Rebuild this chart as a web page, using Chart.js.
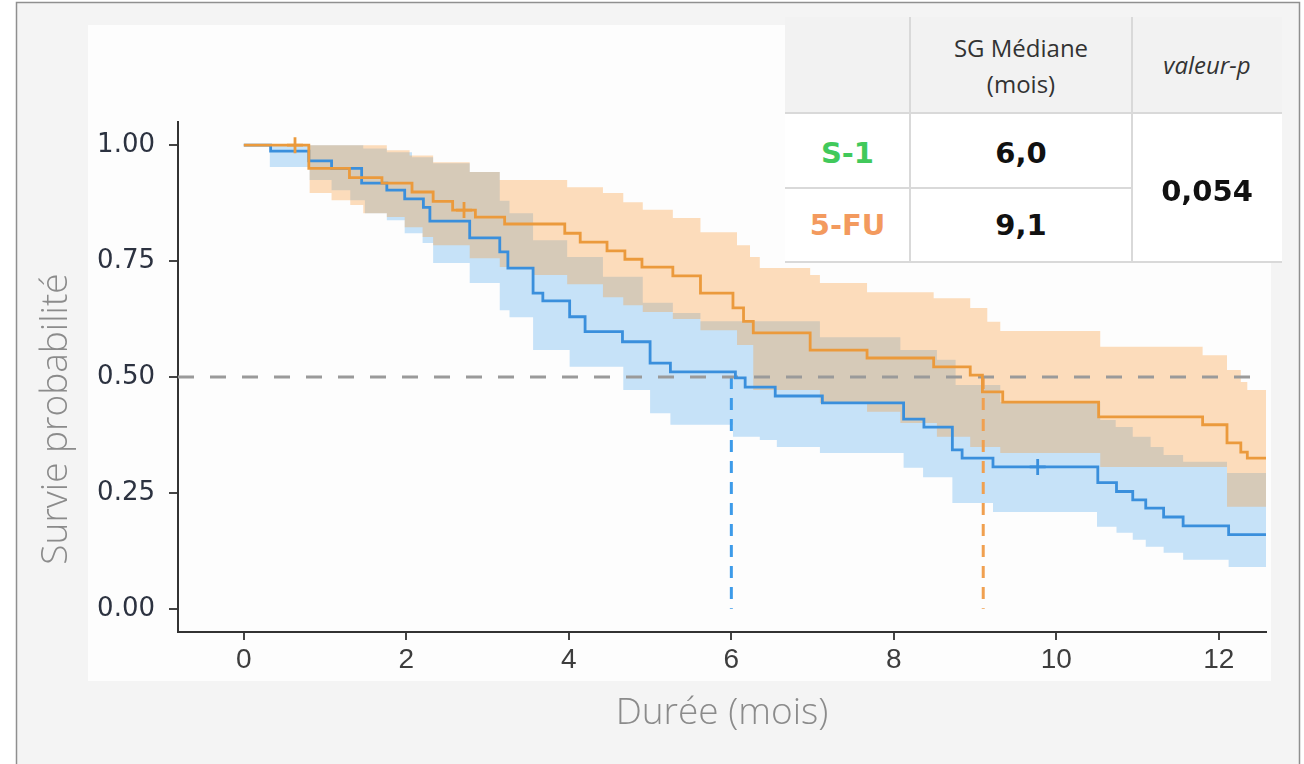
<!DOCTYPE html>
<html>
<head>
<meta charset="utf-8">
<script src="https://cdn.jsdelivr.net/npm/chart.js@4.4.1/dist/chart.umd.min.js"></script>
<style>
html, body { margin: 0; padding: 0; background: #ffffff; }
#wrap { position: relative; width: 1304px; height: 764px; overflow: hidden; }
#chart { position: absolute; left: 0; top: 0; }
.cell { position: absolute; display: flex; align-items: center; justify-content: center; text-align: center; }
.bg { position: absolute; }
.hd { font-family: "Open Sans", "Noto Sans", sans-serif; font-size: 24px; color: #333; line-height: 36px; }
.val { font-family: "DejaVu Sans", sans-serif; font-weight: bold; font-size: 29px; color: #111; }
</style>
</head>
<body>
<div id="wrap">
  <canvas id="chart" width="1304" height="764"></canvas>
  <div id="table"></div>
</div>
<script>
// ---------- data ----------
const xTickValues = [0, 2, 4, 6, 8, 10, 12];
const yTickValues = [0, 0.25, 0.5, 0.75, 1.0];

// S-1 (blue) Kaplan-Meier step curve: time of each step (months) and survival after the step
const s1Times = [0, 0.33, 0.80, 1.08, 1.45, 1.76, 1.98, 2.21, 2.29, 2.78, 3.15, 3.25, 3.56, 3.68, 4.01, 4.20, 4.66, 5.00, 5.25, 6.05, 6.17, 6.54, 7.12, 8.12, 8.37, 8.72, 8.84, 9.22, 10.51, 10.74, 10.94, 11.10, 11.32, 11.56, 12.12, 12.58];
const s1Surv  = [1.0, 0.987, 0.966, 0.95, 0.918, 0.903, 0.884, 0.866, 0.836, 0.80, 0.77, 0.735, 0.681, 0.664, 0.63, 0.598, 0.576, 0.53, 0.511, 0.498, 0.478, 0.459, 0.444, 0.409, 0.392, 0.343, 0.325, 0.306, 0.272, 0.253, 0.235, 0.217, 0.198, 0.179, 0.16, 0.16];
const s1UpperT = [0, 1.47, 1.76, 2.07, 2.33, 2.78, 3.15, 3.27, 3.56, 3.98, 4.42, 4.91, 5.28, 5.62, 7.09, 8.08, 8.53, 8.76, 9.31, 10.54, 10.73, 10.94, 11.16, 11.32, 11.56, 12.10, 12.58];
const s1UpperV = [1.0, 0.993, 0.985, 0.974, 0.961, 0.942, 0.88, 0.853, 0.795, 0.759, 0.716, 0.66, 0.638, 0.62, 0.586, 0.558, 0.537, 0.483, 0.446, 0.407, 0.392, 0.371, 0.349, 0.332, 0.317, 0.293, 0.293];
const s1LowerT = [0, 0.32, 0.81, 1.08, 1.31, 1.49, 1.76, 1.98, 2.20, 2.33, 2.78, 3.15, 3.27, 3.56, 4.01, 4.67, 5.00, 5.25, 6.02, 6.35, 6.56, 7.09, 8.12, 8.36, 8.72, 9.22, 10.50, 10.74, 10.94, 11.10, 11.32, 11.56, 12.12, 12.58];
const s1LowerV = [1.0, 0.953, 0.925, 0.903, 0.881, 0.853, 0.838, 0.81, 0.789, 0.746, 0.703, 0.644, 0.629, 0.558, 0.522, 0.472, 0.422, 0.397, 0.371, 0.364, 0.349, 0.336, 0.304, 0.284, 0.228, 0.209, 0.177, 0.164, 0.149, 0.134, 0.121, 0.106, 0.09, 0.09];
const s1CensorT = [9.77];
const s1CensorV = [0.306];

// 5-FU (orange)
const fuTimes = [0, 0.80, 1.30, 1.70, 2.07, 2.33, 2.57, 2.85, 3.21, 3.95, 4.14, 4.47, 4.69, 4.90, 5.28, 5.62, 6.02, 6.15, 6.27, 6.97, 7.67, 8.49, 8.94, 9.09, 9.34, 10.52, 11.80, 12.10, 12.27, 12.35, 12.58];
const fuSurv  = [1.0, 0.95, 0.93, 0.918, 0.899, 0.879, 0.86, 0.845, 0.83, 0.81, 0.791, 0.772, 0.754, 0.737, 0.718, 0.681, 0.649, 0.62, 0.595, 0.558, 0.541, 0.522, 0.504, 0.468, 0.446, 0.414, 0.397, 0.358, 0.338, 0.325, 0.325];
const fuUpperT = [0, 1.76, 2.04, 2.33, 2.78, 3.15, 3.98, 4.42, 4.67, 4.91, 5.28, 5.62, 6.07, 6.23, 6.35, 6.97, 7.09, 7.67, 8.49, 8.94, 9.15, 9.31, 10.54, 11.80, 12.10, 12.27, 12.35, 12.58];
const fuUpperV = [1.0, 0.989, 0.978, 0.963, 0.942, 0.925, 0.909, 0.897, 0.877, 0.861, 0.843, 0.812, 0.784, 0.759, 0.735, 0.72, 0.703, 0.683, 0.67, 0.649, 0.619, 0.599, 0.565, 0.547, 0.515, 0.489, 0.472, 0.472];
const fuLowerT = [0, 0.81, 1.08, 1.31, 1.47, 1.76, 1.98, 2.20, 2.33, 2.78, 3.15, 3.56, 3.98, 4.42, 4.67, 4.91, 5.28, 5.62, 6.07, 6.27, 7.09, 7.67, 8.08, 8.53, 8.94, 9.31, 10.54, 12.10, 12.58];
const fuLowerV = [1.0, 0.897, 0.881, 0.871, 0.853, 0.845, 0.823, 0.802, 0.784, 0.756, 0.737, 0.72, 0.70, 0.672, 0.655, 0.64, 0.625, 0.601, 0.569, 0.472, 0.444, 0.425, 0.401, 0.371, 0.349, 0.336, 0.306, 0.22, 0.22];
const fuCensorT = [0.63, 2.71];
const fuCensorV = [1.0, 0.86];

// medians and test
const groupNames = ['S-1', '5-FU'];
const medianS1 = 6.0;
const medianFU = 9.1;
const medianLevel = 0.5;
const pValue = 0.054;

const xTitle = 'Durée (mois)';
const yTitle = 'Survie probabilité';
// ---------- end data ----------

const X_MIN = -0.81, X_MAX = 12.58, Y_MIN = -0.05, Y_MAX = 1.05;
const BLUE = '#3a8fdc', ORANGE = '#eb9a3c';

function pts(t, v) { return t.map((x, i) => ({ x: x, y: v[i] })); }
function fr(n, d) { return n.toFixed(d).replace('.', ','); }

const bandStyle = { borderColor: 'transparent', borderWidth: 0, pointRadius: 0, stepped: true, order: 10 };

const datasets = [
  { label: '5-FU', data: pts(fuTimes, fuSurv), borderColor: ORANGE, borderWidth: 2.8, stepped: true, pointRadius: 0, fill: false, order: 1 },
  { label: 'S-1', data: pts(s1Times, s1Surv), borderColor: BLUE, borderWidth: 2.8, stepped: true, pointRadius: 0, fill: false, order: 2 },
  { label: 'censor 5-FU', data: pts(fuCensorT, fuCensorV), showLine: false, pointStyle: 'cross', pointRadius: 8, pointBorderWidth: 2.8, pointBorderColor: ORANGE, borderColor: ORANGE, order: 0 },
  { label: 'censor S-1', data: pts(s1CensorT, s1CensorV), showLine: false, pointStyle: 'cross', pointRadius: 8, pointBorderWidth: 2.8, pointBorderColor: BLUE, borderColor: BLUE, order: 0 },
  { label: 'median', data: [{ x: X_MIN, y: medianLevel }, { x: X_MAX, y: medianLevel }], borderColor: '#9a9a9a', borderWidth: 3, borderDash: [16, 16], pointRadius: 0, fill: false, order: 3 },
  { label: 'median S-1', data: [{ x: medianS1, y: medianLevel }, { x: medianS1, y: 0 }], borderColor: '#3d9be9', borderWidth: 3, borderDash: [12, 9], pointRadius: 0, fill: false, order: 3 },
  { label: 'median 5-FU', data: [{ x: medianFU, y: medianLevel }, { x: medianFU, y: 0 }], borderColor: '#f0a050', borderWidth: 3, borderDash: [12, 9], pointRadius: 0, fill: false, order: 3 },
  Object.assign({ label: '5-FU upper', data: pts(fuUpperT, fuUpperV), fill: 8, backgroundColor: 'rgba(252,145,38,0.30)' }, bandStyle),
  Object.assign({ label: '5-FU lower', data: pts(fuLowerT, fuLowerV), fill: false }, bandStyle),
  Object.assign({ label: 'S-1 upper', data: pts(s1UpperT, s1UpperV), fill: 10, backgroundColor: 'rgba(72,165,238,0.30)' }, bandStyle),
  Object.assign({ label: 'S-1 lower', data: pts(s1LowerT, s1LowerV), fill: false }, bandStyle)
];

const bgPlugin = {
  id: 'bgPlugin',
  beforeDraw(chart) {
    const ctx = chart.ctx;
    ctx.save();
    ctx.fillStyle = '#ffffff';
    ctx.fillRect(0, 0, 1304, 764);
    ctx.fillStyle = '#f4f4f4';
    ctx.fillRect(17, 3, 1282, 761);
    ctx.fillStyle = '#fdfdfd';
    ctx.fillRect(88, 25, 1183, 656);
    ctx.strokeStyle = '#8f8f8f';
    ctx.lineWidth = 1.5;
    ctx.strokeRect(16.5, 2.5, 1283, 800);
    ctx.restore();
  },
  afterDraw(chart) {
    const ctx = chart.ctx;
    ctx.save();
    ctx.translate(56, 419);
    ctx.rotate(-Math.PI / 2);
    ctx.font = '300 37px "Open Sans", "Noto Sans", sans-serif';
    ctx.fillStyle = '#8b8b8b';
    ctx.textAlign = 'center';
    ctx.textBaseline = 'middle';
    ctx.fillText(yTitle, 0, 0);
    ctx.restore();
  }
};

new Chart(document.getElementById('chart'), {
  type: 'line',
  data: { datasets: datasets },
  options: {
    responsive: false,
    animation: false,
    devicePixelRatio: 1,
    layout: { padding: { top: 122, right: 38, left: 0, bottom: 0 } },
    plugins: { legend: { display: false }, tooltip: { enabled: false } },
    scales: {
      x: {
        type: 'linear', min: X_MIN, max: X_MAX,
        afterFit(scale) { scale.height = 132; },
        afterBuildTicks(scale) { scale.ticks = xTickValues.map(v => ({ value: v })); },
        grid: { drawOnChartArea: false, drawTicks: true, tickLength: 8, color: '#444', lineWidth: 2 },
        border: { display: true, color: '#333', width: 2 },
        ticks: { padding: 3, color: '#3d3d3d', font: { family: 'Liberation Sans', size: 28 }, callback: v => String(v), maxRotation: 0 },
        title: { display: true, text: xTitle, color: '#8b8b8b', font: { family: '"Open Sans", "Noto Sans", sans-serif', size: 37, weight: 300 }, padding: { top: 0, bottom: 28 } }
      },
      y: {
        type: 'linear', min: Y_MIN, max: Y_MAX,
        afterFit(scale) { scale.width = 178; },
        afterBuildTicks(scale) { scale.ticks = yTickValues.map(v => ({ value: v })); },
        grid: { drawOnChartArea: false, drawTicks: true, tickLength: 9, color: '#444', lineWidth: 2 },
        border: { display: true, color: '#333', width: 2 },
        ticks: { padding: 14, color: '#2c3240', font: { family: 'DejaVu Sans', size: 26 }, callback: v => v.toFixed(2) }
      }
    }
  },
  plugins: [bgPlugin]
});

// ---------- summary table ----------
(function buildTable() {
  const t = document.getElementById('table');
  const L = 785, T = 17, C1 = 910, C2 = 1132, R = 1282, H1 = 113, H2 = 188, B = 262;
  function add(cls, x, y, w, h, html, style) {
    const d = document.createElement('div');
    d.className = cls;
    d.style.left = x + 'px'; d.style.top = y + 'px';
    d.style.width = w + 'px'; d.style.height = h + 'px';
    if (html !== null) d.innerHTML = html;
    if (style) Object.assign(d.style, style);
    t.appendChild(d);
    return d;
  }
  add('bg', L, T, R - L, H1 - T, null, { background: '#f2f2f2' });
  add('bg', L, H1, R - L, B - H1, null, { background: '#ffffff' });
  const line = '#d9d9d9';
  add('bg', L, H1 - 1, R - L, 2, null, { background: line });
  add('bg', L, H2 - 1, C2 - L, 2, null, { background: line });
  add('bg', L, B - 1, R - L, 2, null, { background: line });
  add('bg', C1 - 1, T, 2, B - T, null, { background: line });
  add('bg', C2 - 1, T, 2, B - T, null, { background: line });

  add('cell hd', C1, T, C2 - C1, H1 - T + 2, 'SG Médiane<br>(mois)');
  add('cell hd', C2, T, R - C2, H1 - T, 'valeur-p', { fontStyle: 'italic' });
  add('cell val', L, H1 + 2, C1 - L, H2 - H1, groupNames[0], { color: '#41c95b' });
  add('cell val', C1, H1 + 2, C2 - C1, H2 - H1, fr(medianS1, 1));
  add('cell val', L, H2, C1 - L, B - H2, groupNames[1], { color: '#f39a5e' });
  add('cell val', C1, H2, C2 - C1, B - H2, fr(medianFU, 1));
  add('cell val', C2, H1 + 3, R - C2, B - H1, fr(pValue, 3));
})();
</script>
</body>
</html>
